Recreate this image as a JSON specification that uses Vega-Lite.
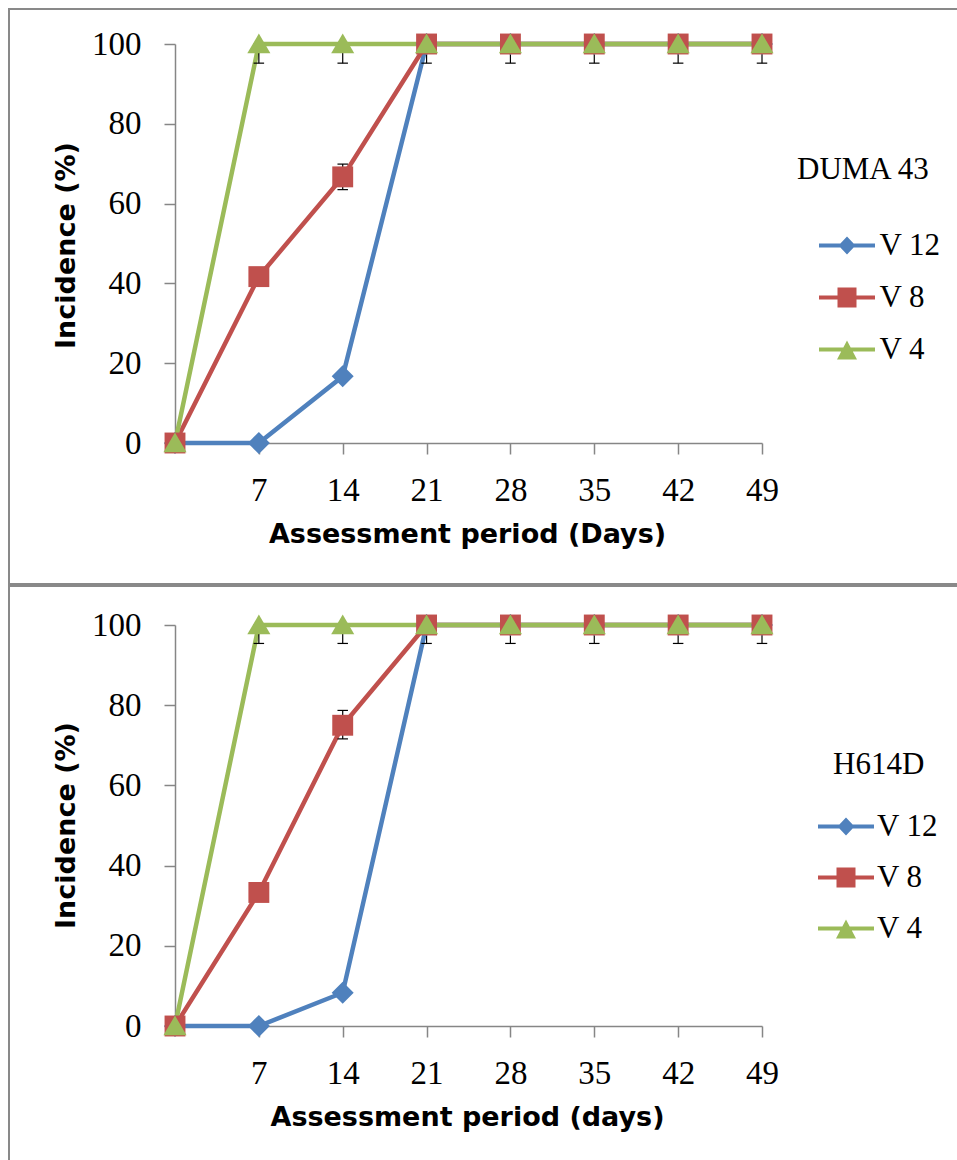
{
  "$schema": "https://vega.github.io/schema/vega-lite/v6.json",
  "padding": {"left": 8, "top": 8, "right": 0, "bottom": 0},
  "background": "white",
  "spacing": 0,
  "config": {
    "axis": {"grid": false, "domainColor": "#868686", "domainWidth": 1.5, "tickColor": "#868686", "tickWidth": 1.5, "tickSize": 11,
      "labelFont": "Liberation Serif", "labelFontSize": 33, "labelColor": "black", "labelFlush": false, "labelOverlap": false,
      "titleFont": "DejaVu Sans", "titleFontSize": 27, "titleFontWeight": "bold", "titleColor": "black"},
    "legend": {"padding": 0, "titleFont": "Liberation Serif", "titleFontSize": 31, "titleFontWeight": "normal", "titleColor": "black",
      "labelFont": "Liberation Serif", "labelFontSize": 31, "labelColor": "black", "symbolSize": 400, "symbolStrokeWidth": 0, "rowPadding": 20}
  },
  "datasets": {
    "series": [
      {"panel": "DUMA 43", "series": "V 12", "day": 0, "value": 0},
      {"panel": "DUMA 43", "series": "V 12", "day": 7, "value": 0},
      {"panel": "DUMA 43", "series": "V 12", "day": 14, "value": 16.7},
      {"panel": "DUMA 43", "series": "V 12", "day": 21, "value": 100},
      {"panel": "DUMA 43", "series": "V 12", "day": 28, "value": 100},
      {"panel": "DUMA 43", "series": "V 12", "day": 35, "value": 100},
      {"panel": "DUMA 43", "series": "V 12", "day": 42, "value": 100},
      {"panel": "DUMA 43", "series": "V 12", "day": 49, "value": 100},
      {"panel": "DUMA 43", "series": "V 8", "day": 0, "value": 0},
      {"panel": "DUMA 43", "series": "V 8", "day": 7, "value": 41.7},
      {"panel": "DUMA 43", "series": "V 8", "day": 14, "value": 66.7},
      {"panel": "DUMA 43", "series": "V 8", "day": 21, "value": 100},
      {"panel": "DUMA 43", "series": "V 8", "day": 28, "value": 100},
      {"panel": "DUMA 43", "series": "V 8", "day": 35, "value": 100},
      {"panel": "DUMA 43", "series": "V 8", "day": 42, "value": 100},
      {"panel": "DUMA 43", "series": "V 8", "day": 49, "value": 100},
      {"panel": "DUMA 43", "series": "V 4", "day": 0, "value": 0},
      {"panel": "DUMA 43", "series": "V 4", "day": 7, "value": 100},
      {"panel": "DUMA 43", "series": "V 4", "day": 14, "value": 100},
      {"panel": "DUMA 43", "series": "V 4", "day": 21, "value": 100},
      {"panel": "DUMA 43", "series": "V 4", "day": 28, "value": 100},
      {"panel": "DUMA 43", "series": "V 4", "day": 35, "value": 100},
      {"panel": "DUMA 43", "series": "V 4", "day": 42, "value": 100},
      {"panel": "DUMA 43", "series": "V 4", "day": 49, "value": 100},
      {"panel": "H614D", "series": "V 12", "day": 0, "value": 0},
      {"panel": "H614D", "series": "V 12", "day": 7, "value": 0},
      {"panel": "H614D", "series": "V 12", "day": 14, "value": 8.3},
      {"panel": "H614D", "series": "V 12", "day": 21, "value": 100},
      {"panel": "H614D", "series": "V 12", "day": 28, "value": 100},
      {"panel": "H614D", "series": "V 12", "day": 35, "value": 100},
      {"panel": "H614D", "series": "V 12", "day": 42, "value": 100},
      {"panel": "H614D", "series": "V 12", "day": 49, "value": 100},
      {"panel": "H614D", "series": "V 8", "day": 0, "value": 0},
      {"panel": "H614D", "series": "V 8", "day": 7, "value": 33.3},
      {"panel": "H614D", "series": "V 8", "day": 14, "value": 75},
      {"panel": "H614D", "series": "V 8", "day": 21, "value": 100},
      {"panel": "H614D", "series": "V 8", "day": 28, "value": 100},
      {"panel": "H614D", "series": "V 8", "day": 35, "value": 100},
      {"panel": "H614D", "series": "V 8", "day": 42, "value": 100},
      {"panel": "H614D", "series": "V 8", "day": 49, "value": 100},
      {"panel": "H614D", "series": "V 4", "day": 0, "value": 0},
      {"panel": "H614D", "series": "V 4", "day": 7, "value": 100},
      {"panel": "H614D", "series": "V 4", "day": 14, "value": 100},
      {"panel": "H614D", "series": "V 4", "day": 21, "value": 100},
      {"panel": "H614D", "series": "V 4", "day": 28, "value": 100},
      {"panel": "H614D", "series": "V 4", "day": 35, "value": 100},
      {"panel": "H614D", "series": "V 4", "day": 42, "value": 100},
      {"panel": "H614D", "series": "V 4", "day": 49, "value": 100}
    ],
    "err": [
      {"panel": "DUMA 43", "day": 7, "low": 95.2, "high": 100},
      {"panel": "DUMA 43", "day": 14, "low": 95.2, "high": 100},
      {"panel": "DUMA 43", "day": 14, "low": 63.5, "high": 69.9},
      {"panel": "DUMA 43", "day": 21, "low": 95.2, "high": 100},
      {"panel": "DUMA 43", "day": 28, "low": 95.2, "high": 100},
      {"panel": "DUMA 43", "day": 35, "low": 95.2, "high": 100},
      {"panel": "DUMA 43", "day": 42, "low": 95.2, "high": 100},
      {"panel": "DUMA 43", "day": 49, "low": 95.2, "high": 100},
      {"panel": "H614D", "day": 7, "low": 95.4, "high": 100},
      {"panel": "H614D", "day": 14, "low": 95.4, "high": 100},
      {"panel": "H614D", "day": 14, "low": 71.6, "high": 78.7},
      {"panel": "H614D", "day": 21, "low": 95.4, "high": 100},
      {"panel": "H614D", "day": 28, "low": 95.4, "high": 100},
      {"panel": "H614D", "day": 35, "low": 95.4, "high": 100},
      {"panel": "H614D", "day": 42, "low": 95.4, "high": 100},
      {"panel": "H614D", "day": 49, "low": 95.4, "high": 100}
    ]
  },
  "resolve": {
    "scale": {"x": "independent", "y": "independent", "color": "independent", "shape": "independent"},
    "legend": {"color": "independent", "shape": "independent"}
  },
  "vconcat": [
    {
      "width": 955, "height": 575,
      "view": {"stroke": "#898989", "strokeWidth": 2},
      "encoding": {
        "x": {"field": "day", "type": "quantitative",
          "scale": {"domain": [0, 49], "range": [166, 753], "nice": false, "zero": false},
          "axis": {"values": [7, 14, 21, 28, 35, 42, 49], "offset": -141, "labelPadding": 46, "labelBaseline": "alphabetic",
            "title": "Assessment period (Days)", "titleX": 458, "titleY": 99, "titleBaseline": "alphabetic", "titleAlign": "center", "titleAnchor": null}},
        "y": {"field": "value", "type": "quantitative",
          "scale": {"domain": [0, 100], "range": [434, 35], "nice": false, "zero": false},
          "axis": {"values": [0, 20, 40, 60, 80, 100], "offset": -166, "labelPadding": 23,
            "title": "Incidence (%)", "titleX": -101, "titleY": 236, "titleBaseline": "alphabetic", "titleAlign": "center", "titleAnchor": null}}
      },
      "layer": [
        {
          "data": {"name": "series"},
          "transform": [{"filter": "datum.panel === 'DUMA 43' && datum.series === 'V 12'"}],
          "mark": {"type": "line", "strokeWidth": 4.5, "color": "#4F81BD"}
        },
        {
          "data": {"name": "series"},
          "transform": [{"filter": "datum.panel === 'DUMA 43' && datum.series === 'V 8'"}],
          "mark": {"type": "line", "strokeWidth": 4.5, "color": "#C0504D"}
        },
        {
          "data": {"name": "series"},
          "transform": [{"filter": "datum.panel === 'DUMA 43' && datum.series === 'V 4'"}],
          "mark": {"type": "line", "strokeWidth": 4.5, "color": "#9BBB59"}
        },
        {
          "data": {"name": "err"},
          "transform": [{"filter": "datum.panel === 'DUMA 43'"}],
          "mark": {"type": "rule", "color": "black", "strokeWidth": 1.2},
          "encoding": {"y": {"field": "low", "type": "quantitative"}, "y2": {"field": "high"}}
        },
        {
          "data": {"name": "err"},
          "transform": [{"filter": "datum.panel === 'DUMA 43'"}],
          "mark": {"type": "point", "shape": "M-1,0L1,0", "filled": false, "stroke": "black", "strokeWidth": 1.2, "size": 110, "opacity": 1},
          "encoding": {"y": {"field": "low", "type": "quantitative"}}
        },
        {
          "data": {"name": "err"},
          "transform": [{"filter": "datum.panel === 'DUMA 43'"}],
          "mark": {"type": "point", "shape": "M-1,0L1,0", "filled": false, "stroke": "black", "strokeWidth": 1.2, "size": 110, "opacity": 1},
          "encoding": {"y": {"field": "high", "type": "quantitative"}}
        },
        {
          "data": {"name": "series"},
          "transform": [{"filter": "datum.panel === 'DUMA 43'"}],
          "mark": {"type": "point", "filled": true, "opacity": 1, "size": 484, "strokeWidth": 0},
          "encoding": {
            "color": {"field": "series", "type": "nominal", "scale": {"domain": ["V 12", "V 8", "V 4"], "range": ["#4F81BD", "#C0504D", "#9BBB59"]},
              "legend": {"title": "DUMA 43", "orient": "none", "legendX": 788, "legendY": 146, "symbolOffset": 34.5, "labelOffset": 17, "titlePadding": 44,
                "encoding": {"symbols": {"shape": {"value": {"expr": "datum.value === 'V 12' ? 'M-2.8,-0.2H2.8V0.2H-2.8Z M-0.85,0L0,-0.9L0.85,0L0,0.9Z' : datum.value === 'V 8' ? 'M-2.8,-0.2H2.8V0.2H-2.8Z M-0.95,-1H0.95V1H-0.95Z' : 'M-2.8,-0.2H2.8V0.2H-2.8Z M0,-0.9L1,1L-1,1Z'"}}, "size": {"value": 400}, "opacity": {"value": 1}}}}},
            "shape": {"field": "series", "type": "nominal", "scale": {"domain": ["V 4", "V 8", "V 12"], "range": ["M0,-0.95L1.05,0.85L-1.05,0.85Z", "M-0.95,-0.95H0.95V0.95H-0.95Z", "M-1,0L0,-1L1,0L0,1Z"]},
              "legend": null}
          }
        }
      ]
    },
    {
      "width": 955, "height": 579,
      "view": {"stroke": "#898989", "strokeWidth": 2},
      "encoding": {
        "x": {"field": "day", "type": "quantitative",
          "scale": {"domain": [0, 49], "range": [166, 753], "nice": false, "zero": false},
          "axis": {"values": [7, 14, 21, 28, 35, 42, 49], "offset": -139, "labelPadding": 46, "labelBaseline": "alphabetic",
            "title": "Assessment period (days)", "titleX": 458, "titleY": 99, "titleBaseline": "alphabetic", "titleAlign": "center", "titleAnchor": null}},
        "y": {"field": "value", "type": "quantitative",
          "scale": {"domain": [0, 100], "range": [440, 39], "nice": false, "zero": false},
          "axis": {"values": [0, 20, 40, 60, 80, 100], "offset": -166, "labelPadding": 23,
            "title": "Incidence (%)", "titleX": -101, "titleY": 239, "titleBaseline": "alphabetic", "titleAlign": "center", "titleAnchor": null}}
      },
      "layer": [
        {
          "data": {"name": "series"},
          "transform": [{"filter": "datum.panel === 'H614D' && datum.series === 'V 12'"}],
          "mark": {"type": "line", "strokeWidth": 4.5, "color": "#4F81BD"}
        },
        {
          "data": {"name": "series"},
          "transform": [{"filter": "datum.panel === 'H614D' && datum.series === 'V 8'"}],
          "mark": {"type": "line", "strokeWidth": 4.5, "color": "#C0504D"}
        },
        {
          "data": {"name": "series"},
          "transform": [{"filter": "datum.panel === 'H614D' && datum.series === 'V 4'"}],
          "mark": {"type": "line", "strokeWidth": 4.5, "color": "#9BBB59"}
        },
        {
          "data": {"name": "err"},
          "transform": [{"filter": "datum.panel === 'H614D'"}],
          "mark": {"type": "rule", "color": "black", "strokeWidth": 1.2},
          "encoding": {"y": {"field": "low", "type": "quantitative"}, "y2": {"field": "high"}}
        },
        {
          "data": {"name": "err"},
          "transform": [{"filter": "datum.panel === 'H614D'"}],
          "mark": {"type": "point", "shape": "M-1,0L1,0", "filled": false, "stroke": "black", "strokeWidth": 1.2, "size": 110, "opacity": 1},
          "encoding": {"y": {"field": "low", "type": "quantitative"}}
        },
        {
          "data": {"name": "err"},
          "transform": [{"filter": "datum.panel === 'H614D'"}],
          "mark": {"type": "point", "shape": "M-1,0L1,0", "filled": false, "stroke": "black", "strokeWidth": 1.2, "size": 110, "opacity": 1},
          "encoding": {"y": {"field": "high", "type": "quantitative"}}
        },
        {
          "data": {"name": "series"},
          "transform": [{"filter": "datum.panel === 'H614D'"}],
          "mark": {"type": "point", "filled": true, "opacity": 1, "size": 484, "strokeWidth": 0},
          "encoding": {
            "color": {"field": "series", "type": "nominal", "scale": {"domain": ["V 12", "V 8", "V 4"], "range": ["#4F81BD", "#C0504D", "#9BBB59"]},
              "legend": {"title": "H614D", "orient": "none", "legendX": 824, "legendY": 164, "symbolOffset": -2.5, "labelOffset": 15.5, "titlePadding": 30, "rowPadding": 19,
                "encoding": {"symbols": {"shape": {"value": {"expr": "datum.value === 'V 12' ? 'M-2.8,-0.2H2.8V0.2H-2.8Z M-0.85,0L0,-0.9L0.85,0L0,0.9Z' : datum.value === 'V 8' ? 'M-2.8,-0.2H2.8V0.2H-2.8Z M-0.95,-1H0.95V1H-0.95Z' : 'M-2.8,-0.2H2.8V0.2H-2.8Z M0,-0.9L1,1L-1,1Z'"}}, "size": {"value": 400}, "opacity": {"value": 1}}}}},
            "shape": {"field": "series", "type": "nominal", "scale": {"domain": ["V 4", "V 8", "V 12"], "range": ["M0,-0.95L1.05,0.85L-1.05,0.85Z", "M-0.95,-0.95H0.95V0.95H-0.95Z", "M-1,0L0,-1L1,0L0,1Z"]},
              "legend": null}
          }
        }
      ]
    }
  ]
}
